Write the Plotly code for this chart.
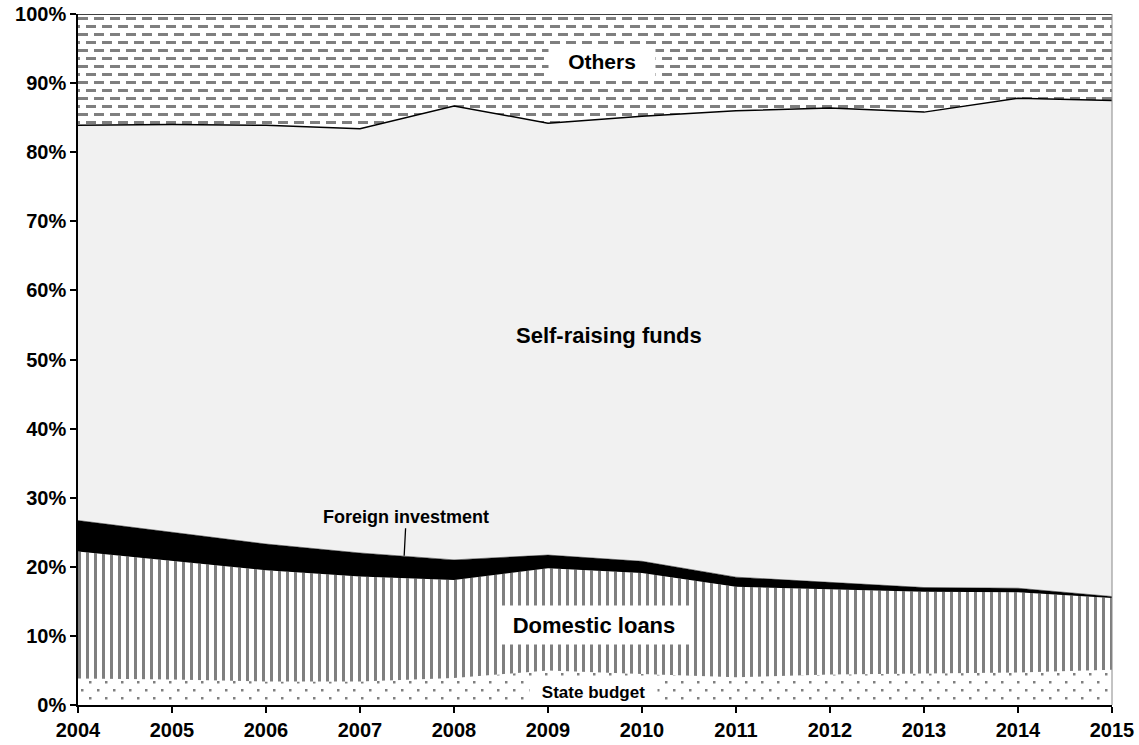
import plotly.graph_objects as go

years = list(range(2004, 2016))
state_budget = [3.85, 3.7, 3.4, 3.4, 3.9, 5.0, 4.5, 4.0, 4.4, 4.5, 4.7, 5.1]
domestic_loans = [18.35, 17.2, 16.1, 15.2, 14.2, 14.8, 14.6, 13.1, 12.4, 11.9, 11.6, 10.4]
foreign_investment = [4.5, 4.1, 3.8, 3.4, 2.9, 1.9, 1.7, 1.4, 1.0, 0.6, 0.6, 0.2]
self_raising = [57.2, 59.0, 60.6, 61.4, 65.7, 62.5, 64.4, 67.5, 68.6, 68.8, 70.9, 71.8]
others = [16.1, 16.0, 16.1, 16.6, 13.3, 15.8, 14.8, 14.0, 13.6, 14.2, 12.2, 12.5]

FONT = "Liberation Sans"

# custom pattern tiles (size x size px)
DOTS = "M3,3h2.5v2.5h-2.5z M11,11h2.5v2.5h-2.5z"
VLINES = "M0,0h3v8h-3z"
DASHES = "M0,3h10v3h-10z M8,11h10v3h-10z M-8,11h10v3h-10z"

fig = go.Figure()

fig.add_trace(go.Scatter(
    x=years, y=state_budget, stackgroup="s", mode="lines",
    line=dict(width=0, color="white"), fillcolor="white",
    fillpattern=dict(path=DOTS, fgcolor="black", bgcolor="white", size=16, solidity=0.05),
    name="State budget"))
fig.add_trace(go.Scatter(
    x=years, y=domestic_loans, stackgroup="s", mode="lines",
    line=dict(width=0, color="black"), fillcolor="white",
    fillpattern=dict(path=VLINES, fgcolor="black", bgcolor="white", size=8, solidity=0.05),
    name="Domestic loans"))
fig.add_trace(go.Scatter(
    x=years, y=foreign_investment, stackgroup="s", mode="lines",
    line=dict(width=0.5, color="black"), fillcolor="black",
    name="Foreign investment"))
fig.add_trace(go.Scatter(
    x=years, y=self_raising, stackgroup="s", mode="lines",
    line=dict(width=1.5, color="black"), fillcolor="#f1f1f1",
    name="Self-raising funds"))
fig.add_trace(go.Scatter(
    x=years, y=others, stackgroup="s", mode="lines",
    line=dict(width=1.5, color="black"), fillcolor="white",
    fillpattern=dict(path=DASHES, fgcolor="black", bgcolor="white", size=16, solidity=0.05),
    name="Others"))

lab = dict(family=FONT, color="black", weight="bold")
fig.add_annotation(x=2009.57, y=93.2, text="Others", showarrow=False,
                   font=dict(size=21, **lab), bgcolor="white", width=104, height=28)
fig.add_annotation(x=2009.65, y=53.5, text="Self-raising funds", showarrow=False,
                   font=dict(size=22, **lab))
fig.add_annotation(x=2007.47, y=21.6, ax=2, ay=-39, text="Foreign investment", showarrow=True,
                   arrowhead=0, arrowwidth=1.3, arrowcolor="black", standoff=0,
                   font=dict(size=18, **lab))
fig.add_annotation(x=2009.49, y=11.6, text="Domestic loans", showarrow=False,
                   font=dict(size=22, **lab), bgcolor="white", width=190, height=36)
fig.add_annotation(x=2009.48, y=1.9, text="State budget", showarrow=False,
                   font=dict(size=17, **lab), bgcolor="white", width=125, height=20)

fig.add_shape(type="line", xref="paper", yref="paper", x0=1, x1=1, y0=0, y1=1,
              line=dict(color="#888888", width=1))

axis_common = dict(showgrid=False, zeroline=False, showline=True, linecolor="black", linewidth=1.5,
                   ticks="outside", ticklen=6, tickcolor="black", tickwidth=1.5, automargin=False,
                   ticklabeloverflow="allow",
                   tickfont=dict(family=FONT, size=20, color="black", weight="bold"))

fig.update_layout(
    width=1139, height=745,
    margin=dict(l=78, r=27, t=14, b=40),
    paper_bgcolor="white", plot_bgcolor="white",
    showlegend=False,
    xaxis=dict(range=[2004, 2015], tickmode="array", tickvals=years,
               ticktext=[str(y) for y in years], **axis_common),
    yaxis=dict(range=[0, 100], tickmode="array", tickvals=list(range(0, 101, 10)),
               ticktext=[f"{v}%" for v in range(0, 101, 10)], **axis_common),
)

fig.write_html("out.html", config={"displayModeBar": False},
               post_script="document.body.style.margin='0';document.body.style.overflow='hidden';")
